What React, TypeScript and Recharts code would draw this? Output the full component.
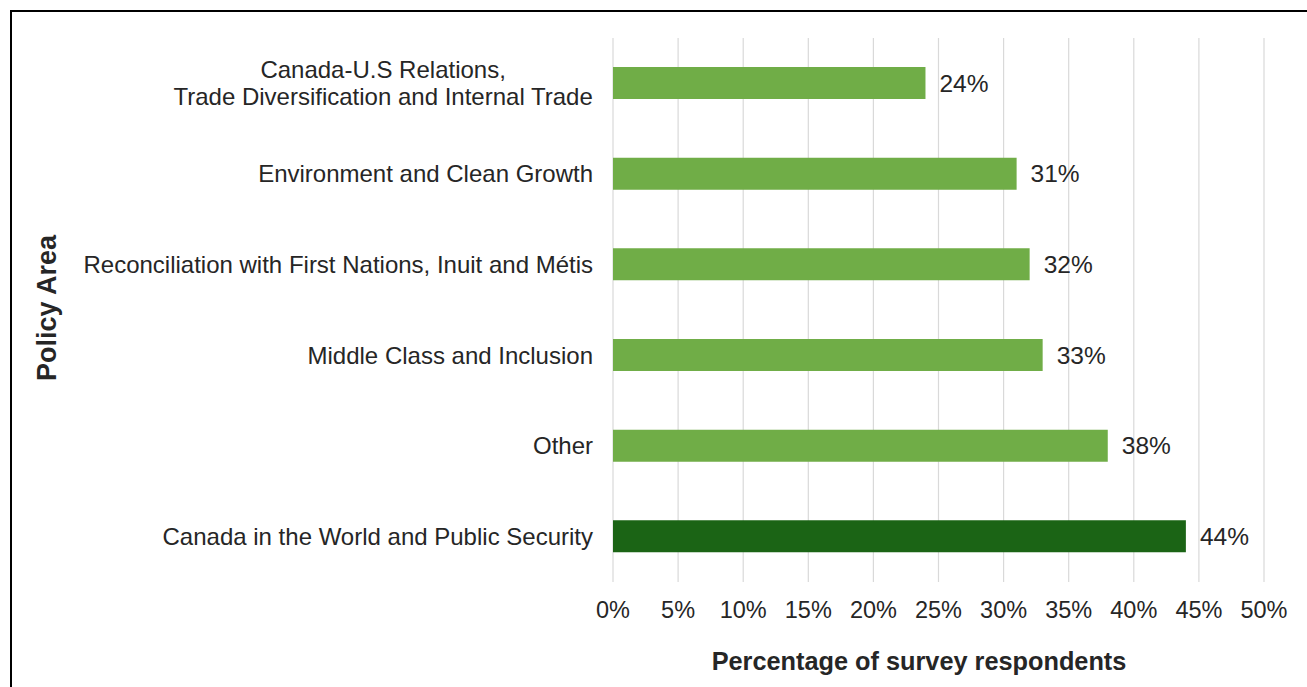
import React from "react";
import { BarChart, Bar, XAxis, YAxis, CartesianGrid, Cell, LabelList, Label } from "recharts";

const categories: string[] = [
  "Canada-U.S Relations,\nTrade Diversification and Internal Trade",
  "Environment and Clean Growth",
  "Reconciliation with First Nations, Inuit and Métis",
  "Middle Class and Inclusion",
  "Other",
  "Canada in the World and Public Security",
];
const values: number[] = [24, 31, 32, 33, 38, 44];
const highlighted: boolean[] = [false, false, false, false, false, true];
const xTicks: number[] = [0, 5, 10, 15, 20, 25, 30, 35, 40, 45, 50];
const xTitle = "Percentage of survey respondents";
const yTitle = "Policy Area";

const FONT = '"Liberation Sans", Arial, sans-serif';
const TEXT = "#262626";
const LIGHT = "#70AD47";
const DARK = "#1B6415";

const data = categories.map((c, i) => ({ name: c, value: values[i], hi: highlighted[i] }));

let measureCtx: CanvasRenderingContext2D | null = null;
function measure(s: string, font: string): number {
  if (!measureCtx) {
    const c = document.createElement("canvas");
    measureCtx = c.getContext("2d");
  }
  if (!measureCtx) return s.length * 11;
  measureCtx.font = font;
  return measureCtx.measureText(s).width;
}

const CatTick = (props: any) => {
  const { x, y, payload } = props;
  const lines: string[] = String(payload.value).split("\n");
  const fs = 24;
  const lh = 27;
  const startDy = -((lines.length - 1) * lh) / 2 + fs * 0.35;
  if (lines.length === 1) {
    return (
      <text x={x} y={y} textAnchor="end" fill={TEXT} fontSize={fs} fontFamily={FONT}>
        <tspan x={x} dy={startDy}>{lines[0]}</tspan>
      </text>
    );
  }
  const maxW = Math.max(...lines.map((l) => measure(l, `${fs}px "Liberation Sans", Arial, sans-serif`)));
  const cx = x - maxW / 2;
  return (
    <text x={cx} y={y} textAnchor="middle" fill={TEXT} fontSize={fs} fontFamily={FONT}>
      {lines.map((l, i) => (
        <tspan key={i} x={cx} dy={i === 0 ? startDy : lh}>
          {l}
        </tspan>
      ))}
    </text>
  );
};

export default function App() {
  return (
    <div style={{ position: "fixed", left: 0, top: 0, width: 1307, height: 687, overflow: "hidden", background: "#fff" }}>
      <div
        style={{
          position: "absolute",
          left: 9.5,
          top: 9.5,
          width: 1400,
          height: 800,
          border: "2.5px solid #000",
          boxSizing: "border-box",
        }}
      />
      <div style={{ position: "absolute", left: 0, top: 0 }}>
        <BarChart
          width={1307}
          height={687}
          data={data}
          layout="vertical"
          margin={{ top: 38, right: 43, bottom: 0, left: 0 }}
          barSize={32}
        >
          <CartesianGrid horizontal={false} vertical={true} stroke="#d9d9d9" strokeWidth={1.2} />
          <XAxis
            type="number"
            domain={[0, 50]}
            ticks={xTicks}
            interval={0}
            tickFormatter={(v: number) => `${v}%`}
            axisLine={false}
            tickLine={false}
            tickSize={0}
            tickMargin={19}
            height={105}
            tick={{ fill: TEXT, fontSize: 23.5, fontFamily: FONT }}
          >
            <Label
              content={() => (
                <text x={919} y={670} textAnchor="middle" fill={TEXT} fontSize={25.3} fontWeight="bold" fontFamily={FONT}>
                  {xTitle}
                </text>
              )}
            />
          </XAxis>
          <YAxis
            type="category"
            dataKey="name"
            width={613}
            axisLine={false}
            tickLine={false}
            tickSize={0}
            tickMargin={20}
            interval={0}
            tick={<CatTick />}
          >
            <Label
              content={() => (
                <text
                  x={47}
                  y={308}
                  textAnchor="middle"
                  dominantBaseline="central"
                  transform="rotate(-90 47 308)"
                  fill={TEXT}
                  fontSize={27}
                  fontWeight="bold"
                  fontFamily={FONT}
                >
                  {yTitle}
                </text>
              )}
            />
          </YAxis>
          <Bar dataKey="value" isAnimationActive={false}>
            {data.map((d, i) => (
              <Cell key={i} fill={d.hi ? DARK : LIGHT} />
            ))}
            <LabelList
              dataKey="value"
              position="right"
              offset={14}
              formatter={(v: any) => `${v}%`}
              fill={TEXT}
              fontSize={24.5}
              fontFamily={FONT}
            />
          </Bar>
        </BarChart>
      </div>
    </div>
  );
}
